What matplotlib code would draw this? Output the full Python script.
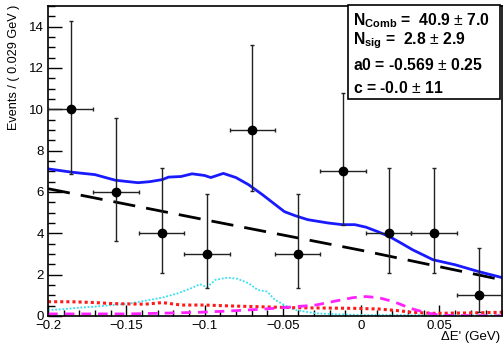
import numpy as np
import matplotlib
matplotlib.use("Agg")
import matplotlib.pyplot as plt
from matplotlib.ticker import MultipleLocator

plt.rcParams['font.family'] = ['Liberation Sans', 'DejaVu Sans']
plt.rcParams['mathtext.fontset'] = 'custom'
plt.rcParams['mathtext.rm'] = 'Liberation Sans'
plt.rcParams['mathtext.bf'] = 'Liberation Sans:bold'

# data points (bin width 0.029 GeV)
bin_centers = [-0.1855, -0.1565, -0.1275, -0.0985, -0.0695, -0.0405, -0.0115, 0.0175, 0.0465, 0.0755]
counts = [10, 6, 4, 3, 9, 3, 7, 4, 4, 1]
err_lo = [3.11, 2.38, 1.91, 1.63, 2.94, 1.63, 2.58, 1.91, 1.91, 0.83]
err_hi = [4.27, 3.58, 3.16, 2.92, 4.11, 2.92, 3.77, 3.16, 3.16, 2.30]
half_bin = 0.0145

# total fit (blue)
tot_x = [-0.2, -0.185, -0.17, -0.157, -0.1425, -0.135, -0.127, -0.123, -0.115, -0.108, -0.1,
         -0.096, -0.088, -0.08, -0.072, -0.063, -0.055, -0.049, -0.042, -0.034, -0.021, -0.012,
         -0.004, 0.003, 0.010, 0.018, 0.025, 0.033, 0.046, 0.060, 0.075, 0.09]
tot_y = [7.12, 6.96, 6.84, 6.57, 6.45, 6.5, 6.6, 6.72, 6.75, 6.88, 6.8,
         6.7, 6.9, 6.7, 6.36, 5.87, 5.4, 5.05, 4.85, 4.66, 4.5, 4.42,
         4.42, 4.3, 4.1, 3.85, 3.55, 3.2, 2.72, 2.48, 2.15, 1.86]

# combinatorial (black dashed)
comb_x = [-0.2, -0.1, 0.0, 0.09]
comb_y = [6.16, 4.66, 3.18, 1.75]

# cyan dotted component
cyan_x = [-0.2, -0.19, -0.181, -0.17, -0.159, -0.148, -0.138, -0.127, -0.117, -0.108, -0.103,
          -0.0985, -0.093, -0.085, -0.079, -0.072, -0.066, -0.06, -0.055, -0.049, -0.042,
          -0.029, -0.015, 0.0, 0.09]
cyan_y = [0.29, 0.33, 0.4, 0.45, 0.53, 0.6, 0.74, 0.89, 1.1, 1.36, 1.54,
          1.39, 1.75, 1.86, 1.8, 1.59, 1.26, 1.18, 0.78, 0.53, 0.29,
          0.13, 0.08, 0.05, 0.03]

# red dotted component
red_x = [-0.2, -0.185, -0.17, -0.159, -0.138, -0.127, -0.115, -0.1, -0.085, -0.042, -0.004,
         0.011, 0.025, 0.032, 0.046, 0.07, 0.09]
red_y = [0.69, 0.69, 0.65, 0.6, 0.57, 0.65, 0.53, 0.53, 0.49, 0.4, 0.37,
         0.34, 0.25, 0.18, 0.13, 0.15, 0.18]

# signal (magenta dashed)
sig_x = [-0.2, -0.15, -0.13, -0.103, -0.085, -0.063, -0.042, -0.029, -0.016, -0.005, 0.003,
         0.011, 0.021, 0.0315, 0.042, 0.05, 0.06, 0.09]
sig_y = [0.1, 0.1, 0.13, 0.18, 0.24, 0.33, 0.45, 0.53, 0.73, 0.89, 0.94,
         0.89, 0.69, 0.37, 0.15, 0.05, 0.02, 0.01]

# fit results box
fit_lines = [r"N$_{\mathbf{Comb}}$ =  40.9 $\pm$ 7.0",
             r"N$_{\mathbf{sig}}$ =  2.8 $\pm$ 2.9",
             r"a0 = -0.569 $\pm$ 0.25",
             r"c = -0.0 $\pm$ 11"]

fig = plt.figure(figsize=(5.03, 3.44), dpi=100)
ax = fig.add_axes([48 / 503, 28 / 344, 454 / 503, 310 / 344])

ax.plot(cyan_x, cyan_y, color='#33e0f0', lw=1.3, linestyle=(0, (1, 1)))
ax.plot(red_x, red_y, color='#ff1a1a', lw=2.2, linestyle=(0, (1, 1)))
ax.plot(sig_x, sig_y, color='#ff22ff', lw=2.0, linestyle=(0, (3.5, 2.5)))
ax.plot(comb_x, comb_y, color='black', lw=2.0, linestyle=(0, (8, 4)))
ax.plot(tot_x, tot_y, color='#1a1aff', lw=2.0)

ax.errorbar(bin_centers, counts, xerr=half_bin, yerr=[err_lo, err_hi],
            fmt='o', color='black', ecolor='#222222', ms=6, elinewidth=1.0,
            capsize=1.5, capthick=1.0, zorder=5)

ax.set_xlim(-0.2, 0.09)
ax.set_ylim(0, 15)
ax.xaxis.set_minor_locator(MultipleLocator(0.01))
ax.yaxis.set_major_locator(MultipleLocator(2))
ax.yaxis.set_minor_locator(MultipleLocator(0.5))
ax.set_xticks([-0.2, -0.15, -0.1, -0.05, 0, 0.05])
ax.set_xticklabels(['\u22120.2', '\u22120.15', '\u22120.1', '\u22120.05', '0', '0.05'])
ax.tick_params(axis='x', which='major', direction='in', length=8, width=1.0, labelsize=9.5, pad=3)
ax.tick_params(axis='x', which='minor', direction='in', length=4, width=1.0)
ax.tick_params(axis='y', which='major', direction='in', length=10, width=1.0, labelsize=9.5, pad=3)
ax.tick_params(axis='y', which='minor', direction='in', length=5, width=1.0)
for s in ax.spines.values():
    s.set_linewidth(1.2)

fig.text(14 / 503, 1 - 5 / 344, "Events / ( 0.029 GeV )", rotation=90,
         ha='center', va='top', fontsize=9.1)
fig.text(500 / 503, 1 - 337 / 344, "\u0394E' (GeV)", ha='right', va='center', fontsize=9.5)

box = plt.Rectangle((348 / 503, 1 - 99 / 344), 152 / 503, 94 / 344, transform=fig.transFigure,
                    facecolor='white', edgecolor='black', lw=1.2, zorder=10)
fig.patches.append(box)
for t, yy in zip(fit_lines, [25, 44, 70, 93.5]):
    fig.text(353 / 503, 1 - yy / 344, t, ha='left', va='baseline', fontsize=11.3,
             fontweight='bold', zorder=11)

fig.savefig("out.png", dpi=100)
